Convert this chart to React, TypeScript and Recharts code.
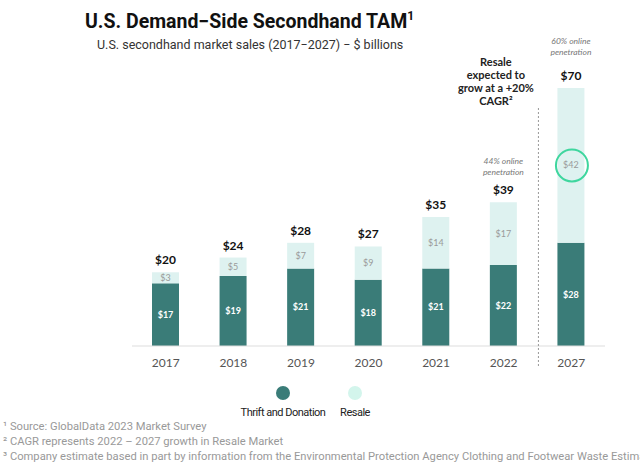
import React from "react";
import { BarChart, Bar, XAxis, YAxis, LabelList } from "recharts";

const years = ["2017", "2018", "2019", "2020", "2021", "2022", "2027"];
const thrift = [17, 19, 21, 18, 21, 22, 28];
const resale = [3, 5, 7, 9, 14, 17, 42];
const penetration: { [k: string]: string } = { "2022": "44%", "2027": "60%" };

const DARK = "#3a7c78";
const LIGHT = "#def2f0";
const RING = "#3ed69e";
const LABEL_FONT = "Lato, 'Open Sans', sans-serif";

const data = years.map((year, i) => ({
  year,
  thrift: thrift[i],
  resale: resale[i],
  total: thrift[i] + resale[i],
}));

const ResaleLabel = (props: any) => {
  const { x, y, width, height, value, index } = props;
  const cx = x + width / 2;
  const cy = y + height / 2;
  return (
    <g>
      <text x={cx} y={cy} dy={3} textAnchor="middle" fill="#9a9a9a" fontSize={9} fontFamily={LABEL_FONT}>
        ${value}
      </text>
      {index === data.length - 1 && (
        <circle cx={cx + 1} cy={cy} r={16} fill="none" stroke={RING} strokeWidth={2} />
      )}
    </g>
  );
};

const TotalLabel = (props: any) => {
  const { x, y, width, index } = props;
  const d = data[index];
  const cx = x + width / 2;
  const pen = penetration[d.year];
  const last = index === data.length - 1;
  const penY = last ? y - 47 : y - 41;
  return (
    <g fontFamily={LABEL_FONT}>
      <text x={cx} y={y - 8} textAnchor="middle" fill="#111" fontSize={12} fontWeight="bold">
        ${d.total}
      </text>
      {pen && (
        <text textAnchor="middle" fill="#777" fontSize={8.5} fontStyle="italic">
          <tspan x={cx} y={penY + 3}>{pen} online</tspan>
          <tspan x={cx} y={penY + 14}>penetration</tspan>
        </text>
      )}
      {last && (
        <g>
          <line
            x1={x - 19}
            x2={x - 19}
            y1={108}
            y2={366}
            stroke="#999"
            strokeWidth={1}
            strokeDasharray="2 2"
          />
          <text textAnchor="middle" fill="#222" fontSize={11} fontWeight="bold">
            <tspan x={cx - 75} y={66}>Resale</tspan>
            <tspan x={cx - 75} y={79}>expected to</tspan>
            <tspan x={cx - 75} y={92}>grow at a +20%</tspan>
            <tspan x={cx - 75} y={105}>CAGR²</tspan>
          </text>
        </g>
      )}
    </g>
  );
};

const footnotes = [
  "¹ Source: GlobalData 2023 Market Survey",
  "² CAGR represents 2022 – 2027 growth in Resale Market",
  "³ Company estimate based in part by information from the Environmental Protection Agency Clothing and Footwear Waste Estimate",
];

export default function App() {
  return (
    <div
      style={{
        position: "absolute",
        left: 0,
        top: 0,
        width: 640,
        height: 465,
        background: "#fff",
        overflow: "hidden",
        fontFamily: "Roboto, sans-serif",
      }}
    >
      <div
        style={{
          position: "absolute",
          left: 85,
          top: 9,
          fontSize: 19.5,
          fontWeight: 700,
          color: "#111",
          whiteSpace: "nowrap",
        }}
      >
        U.S. Demand−Side Secondhand TAM<sup style={{ fontSize: 12 }}>1</sup>
      </div>
      <div
        style={{
          position: "absolute",
          left: 97,
          top: 37,
          fontSize: 12.5,
          color: "#333",
          whiteSpace: "nowrap",
        }}
      >
        U.S. secondhand market sales (2017−2027) − $ billions
      </div>

      <BarChart
        width={640}
        height={465}
        data={data}
        margin={{ top: 88, right: 35, left: 132, bottom: 89 }}
        barSize={27}
      >
        <XAxis
          dataKey="year"
          height={30}
          tickLine={false}
          axisLine={{ stroke: "#dddddd" }}
          tickMargin={6}
          tick={{ fill: "#555", fontSize: 12, fontFamily: LABEL_FONT }}
        />
        <YAxis hide domain={[0, 70]} />
        <Bar dataKey="thrift" stackId="a" fill={DARK} isAnimationActive={false}>
          <LabelList
            dataKey="thrift"
            position="center"
            fill="#fff"
            fontSize={9}
            fontWeight="bold"
            fontFamily={LABEL_FONT}
            formatter={(v: any) => `$${v}`}
          />
        </Bar>
        <Bar dataKey="resale" stackId="a" fill={LIGHT} isAnimationActive={false}>
          <LabelList dataKey="resale" content={ResaleLabel} />
          <LabelList dataKey="total" content={TotalLabel} />
        </Bar>
      </BarChart>

      {[
        { name: "Thrift and Donation", color: DARK, x: 283 },
        { name: "Resale", color: "#d3f5ec", x: 355 },
      ].map((item) => (
        <div key={item.name}>
          <div
            style={{
              position: "absolute",
              left: item.x - 7,
              top: 386,
              width: 14,
              height: 14,
              borderRadius: "50%",
              background: item.color,
            }}
          />
          <div
            style={{
              position: "absolute",
              left: item.x - 60,
              width: 120,
              top: 406,
              textAlign: "center",
              fontSize: 11,
              letterSpacing: -0.5,
              color: "#222",
            }}
          >
            {item.name}
          </div>
        </div>
      ))}

      {footnotes.map((t, i) => (
        <div
          key={i}
          style={{
            position: "absolute",
            left: 3,
            top: 420 + i * 15,
            fontSize: 11.2,
            color: "#999",
            whiteSpace: "nowrap",
          }}
        >
          {t}
        </div>
      ))}
    </div>
  );
}
